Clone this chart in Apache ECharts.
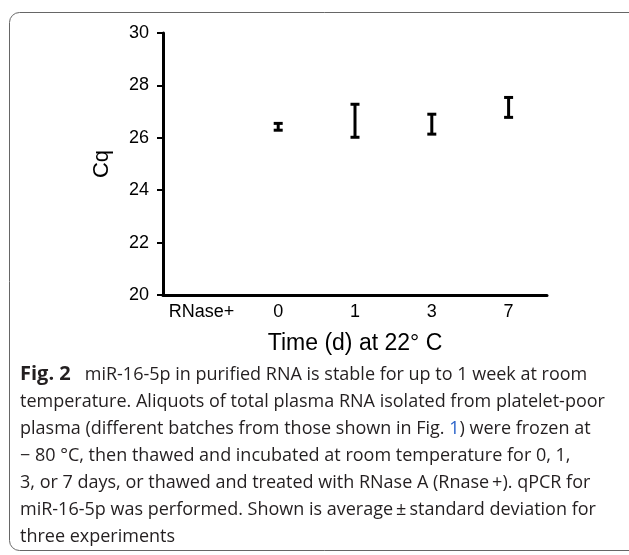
<!DOCTYPE html>
<html>
<head>
<meta charset="utf-8">
<script src="https://cdn.jsdelivr.net/npm/echarts@6/dist/echarts.min.js"></script>
<style>
  html, body { margin: 0; padding: 0; background: #fff; }
  #main { width: 629px; height: 555px; }
</style>
</head>
<body>
<div id="main"></div>
<script>
// categories along the x axis
var categories = ['RNase+', '0', '1', '3', '7'];
// mean Cq and standard deviation (RNase+ not detected)
var means = [null, 26.42, 26.65, 26.52, 27.16];
var sds = [null, 0.13, 0.63, 0.38, 0.38];
var yTicks = { min: 20, max: 30, interval: 2 };

var captionLines = [
    '{b|Fig. 2}   miR-16-5p in purified RNA is stable for up to 1 week at room',
    'temperature. Aliquots of total plasma RNA isolated from platelet-poor',
    'plasma (different batches from those shown in Fig. {link|1}) were frozen at',
    '\u2212 80 \u00b0C, then thawed and incubated at room temperature for 0, 1,',
    '3, or 7 days, or thawed and treated with RNase A (Rnase\u2009+). qPCR for',
    'miR-16-5p was performed. Shown is average\u2009\u00b1\u2009standard deviation for',
    'three experiments'
];

var barData = [];
categories.forEach(function (c, i) {
    if (means[i] != null) barData.push([i, means[i], sds[i]]);
});

var myChart = echarts.init(document.getElementById('main'), null, { renderer: 'canvas' });

var axisFont = 'Liberation Sans, Arial, sans-serif';
var capFont = 'Open Sans, sans-serif';

var option = {
    animation: false,
    grid: { left: 163, right: 82, top: 33, bottom: 260 },
    xAxis: {
        type: 'category',
        data: categories,
        axisLine: { lineStyle: { color: '#000', width: 3 } },
        axisTick: { show: false },
        axisLabel: { color: '#000', fontSize: 18, fontFamily: axisFont, margin: 8, interval: 0 },
        name: 'Time (d) at 22\u00b0 C',
        nameLocation: 'middle',
        nameGap: 37,
        nameTextStyle: { color: '#000', fontSize: 23, fontFamily: axisFont }
    },
    yAxis: {
        type: 'value',
        min: yTicks.min,
        max: yTicks.max,
        interval: yTicks.interval,
        splitLine: { show: false },
        axisLine: { show: true, lineStyle: { color: '#000', width: 3 } },
        axisTick: { show: true, length: 6, lineStyle: { color: '#000', width: 2 } },
        axisLabel: { color: '#000', fontSize: 18, fontFamily: axisFont, margin: 14 },
        name: 'Cq',
        nameLocation: 'middle',
        nameRotate: 90,
        nameGap: 50,
        nameTextStyle: { color: '#000', fontSize: 22, fontFamily: axisFont }
    },
    series: [{
        type: 'custom',
        data: barData,
        renderItem: function (params, api) {
            var x = api.value(0);
            var m = api.value(1);
            var s = api.value(2);
            var hi = api.coord([x, m + s]);
            var lo = api.coord([x, m - s]);
            var half = 4.5;
            var style = { stroke: '#000', lineWidth: 3 };
            return {
                type: 'group',
                children: [
                    { type: 'line', shape: { x1: hi[0], y1: hi[1], x2: lo[0], y2: lo[1] }, style: style },
                    { type: 'line', shape: { x1: hi[0] - half, y1: hi[1], x2: hi[0] + half, y2: hi[1] }, style: style },
                    { type: 'line', shape: { x1: lo[0] - half, y1: lo[1], x2: lo[0] + half, y2: lo[1] }, style: style }
                ]
            };
        }
    }],
    graphic: [
        {
            type: 'rect',
            shape: { x: 9.5, y: 12.5, width: 700, height: 538, r: 10 },
            style: { fill: 'none', stroke: '#666', lineWidth: 1 },
            silent: true
        },
        {
            type: 'text',
            left: 20,
            top: 361,
            style: {
                text: captionLines.join('\n'),
                fontFamily: capFont,
                fontSize: 18,
                lineHeight: 27,
                fill: '#231f20',
                rich: {
                    b: { fontWeight: 'bold', fontSize: 20, fontFamily: capFont, fill: '#231f20', lineHeight: 27 },
                    link: { fill: '#2a62c9', fontSize: 18, fontFamily: capFont, lineHeight: 27 }
                }
            }
        }
    ]
};

myChart.setOption(option);
</script>
</body>
</html>
